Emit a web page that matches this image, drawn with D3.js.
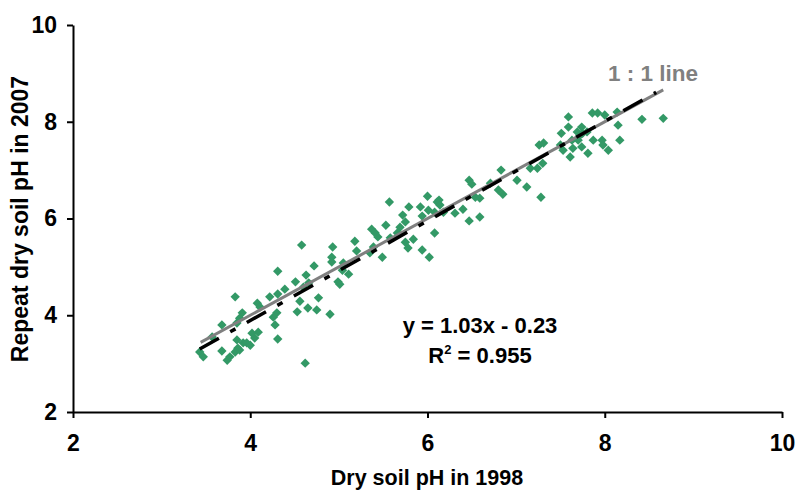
<!DOCTYPE html>
<html><head><meta charset="utf-8">
<script src="https://cdn.jsdelivr.net/npm/d3@7"></script>
<style>
body{margin:0;background:#fff;}
text{font-family:"Liberation Sans",Arial,sans-serif;font-weight:bold;}
</style></head>
<body><svg id="c" width="797" height="490"></svg>
<script>
const ph1998 = [3.43,3.47,3.57,3.68,3.68,3.74,3.77,3.83,3.86,3.88,
3.85,3.92,3.96,4.00,4.05,4.09,4.02,3.85,3.91,3.88,
3.83,4.08,4.11,4.26,4.30,4.28,4.31,4.22,4.31,4.39,
4.51,4.60,4.66,4.56,4.53,4.65,4.75,4.77,4.90,4.62,
4.31,4.58,4.63,4.72,4.93,4.92,4.92,4.99,5.01,5.05,
5.04,5.11,5.20,5.18,5.35,5.39,5.49,5.41,5.44,5.37,
5.57,5.53,5.69,5.75,5.66,5.58,5.75,5.84,5.78,5.72,
5.79,5.92,6.00,6.01,5.94,6.08,6.11,6.08,5.94,6.02,
6.13,6.14,6.18,6.31,6.40,6.47,6.50,6.54,6.59,6.59,
6.47,6.71,6.83,6.80,6.85,7.01,7.12,7.28,7.16,7.24,
7.30,7.26,7.31,7.50,7.53,7.51,7.61,7.64,7.63,7.70,
7.74,7.81,7.59,7.59,7.74,7.69,7.72,7.75,7.80,7.86,
7.92,8.00,8.14,8.15,7.87,7.97,7.98,8.04,8.17,8.42,
8.66];
const ph2007 = [3.24,3.14,3.55,3.80,3.26,3.07,3.14,3.24,3.32,3.28,
3.49,3.43,3.43,3.38,3.53,3.65,3.63,3.84,4.05,3.94,
4.38,4.25,4.17,3.96,4.05,3.80,3.51,4.38,4.44,4.54,
4.69,4.58,4.67,4.29,4.07,4.15,4.11,4.36,4.02,3.01,
4.91,5.45,4.83,5.02,5.41,5.20,5.10,4.69,4.64,5.08,
4.93,4.85,5.33,5.53,5.29,5.41,5.20,5.70,5.62,5.78,
6.34,5.86,5.82,5.93,5.70,5.60,5.51,5.57,5.39,6.07,
6.24,6.24,6.46,6.17,6.05,6.13,6.34,5.70,5.35,5.20,
6.38,6.28,6.13,6.11,6.19,6.79,6.71,6.44,6.42,6.03,
5.95,6.73,7.00,6.59,6.50,6.79,6.65,6.44,7.04,7.04,
7.14,7.52,7.56,7.52,7.41,7.76,7.27,7.45,7.62,7.62,
7.48,7.35,7.89,8.10,7.89,7.79,7.72,7.76,7.79,8.18,
8.18,8.14,8.20,7.93,7.62,7.62,7.52,7.41,7.62,8.05,
8.07];
const xTicks = [2,4,6,8,10];
const yTicks = [2,4,6,8,10];
const oneToOneRange = [3.44, 8.66];
const regRange = [3.43, 8.58];
const slope = 1.03, intercept = -0.23;
const eqText = "y = 1.03x - 0.23";
const r2Text = "0.955";

const svg = d3.select("#c");
const x = d3.scaleLinear().domain([2,10]).range([73,782]);
const y = d3.scaleLinear().domain([2,10]).range([412,25]);

// points
const pts = ph1998.map((v,i)=>({x:v,y:ph2007[i]}));
const sym = d3.symbol().type(d3.symbolSquare).size(44);
svg.append("g").selectAll("path").data(pts).join("path")
  .attr("d", sym)
  .attr("transform", d=>`translate(${x(d.x)},${y(d.y)}) rotate(45)`)
  .attr("fill","#339966");

const line = d3.line().x(d=>x(d[0])).y(d=>y(d[1]));
// 1:1 line
svg.append("path")
  .attr("d", line(oneToOneRange.map(v=>[v,v])))
  .attr("stroke","#808080").attr("stroke-width",3).attr("fill","none");
// regression
svg.append("path")
  .attr("d", line(regRange.map(v=>[v, slope*v+intercept])))
  .attr("stroke","#000").attr("stroke-width",3.5).attr("fill","none")
  .attr("stroke-dasharray","22,13,6,13");

// axes
const ax = svg.append("g").attr("transform","translate(0,412)")
  .call(d3.axisBottom(x).tickValues(xTicks).tickSize(6).tickSizeOuter(0).tickPadding(17).tickFormat(d3.format("d")));
const ay = svg.append("g").attr("transform","translate(73,0)")
  .call(d3.axisLeft(y).tickValues(yTicks).tickSize(6).tickSizeOuter(0).tickPadding(10).tickFormat(d3.format("d")));
[ax,ay].forEach(g=>{
  g.select(".domain").attr("stroke","#000").attr("stroke-width",2);
  g.selectAll(".tick line").attr("stroke","#000").attr("stroke-width",2);
  g.selectAll(".tick text").attr("font-size",23).attr("font-family","Liberation Sans, Arial, sans-serif").attr("font-weight","bold").attr("fill","#000");
});

// titles
svg.append("text").attr("x",427).attr("y",485).attr("text-anchor","middle")
  .attr("font-size",21.5).text("Dry soil pH in 1998");
svg.append("text").attr("transform","translate(28,219) rotate(-90)").attr("text-anchor","middle")
  .attr("font-size",23).text("Repeat dry soil pH in 2007");

svg.append("text").attr("x",608).attr("y",81).attr("font-size",22.5).attr("fill","#808080").text("1 : 1 line");

svg.append("text").attr("x",480).attr("y",333).attr("text-anchor","middle").attr("font-size",22).text(eqText);
const r2 = svg.append("text").attr("x",480).attr("y",363).attr("text-anchor","middle").attr("font-size",22);
r2.append("tspan").text("R");
r2.append("tspan").attr("font-size",13).attr("dy",-9).text("2");
r2.append("tspan").attr("dy",9).text(" = " + r2Text);
</script></body></html>
